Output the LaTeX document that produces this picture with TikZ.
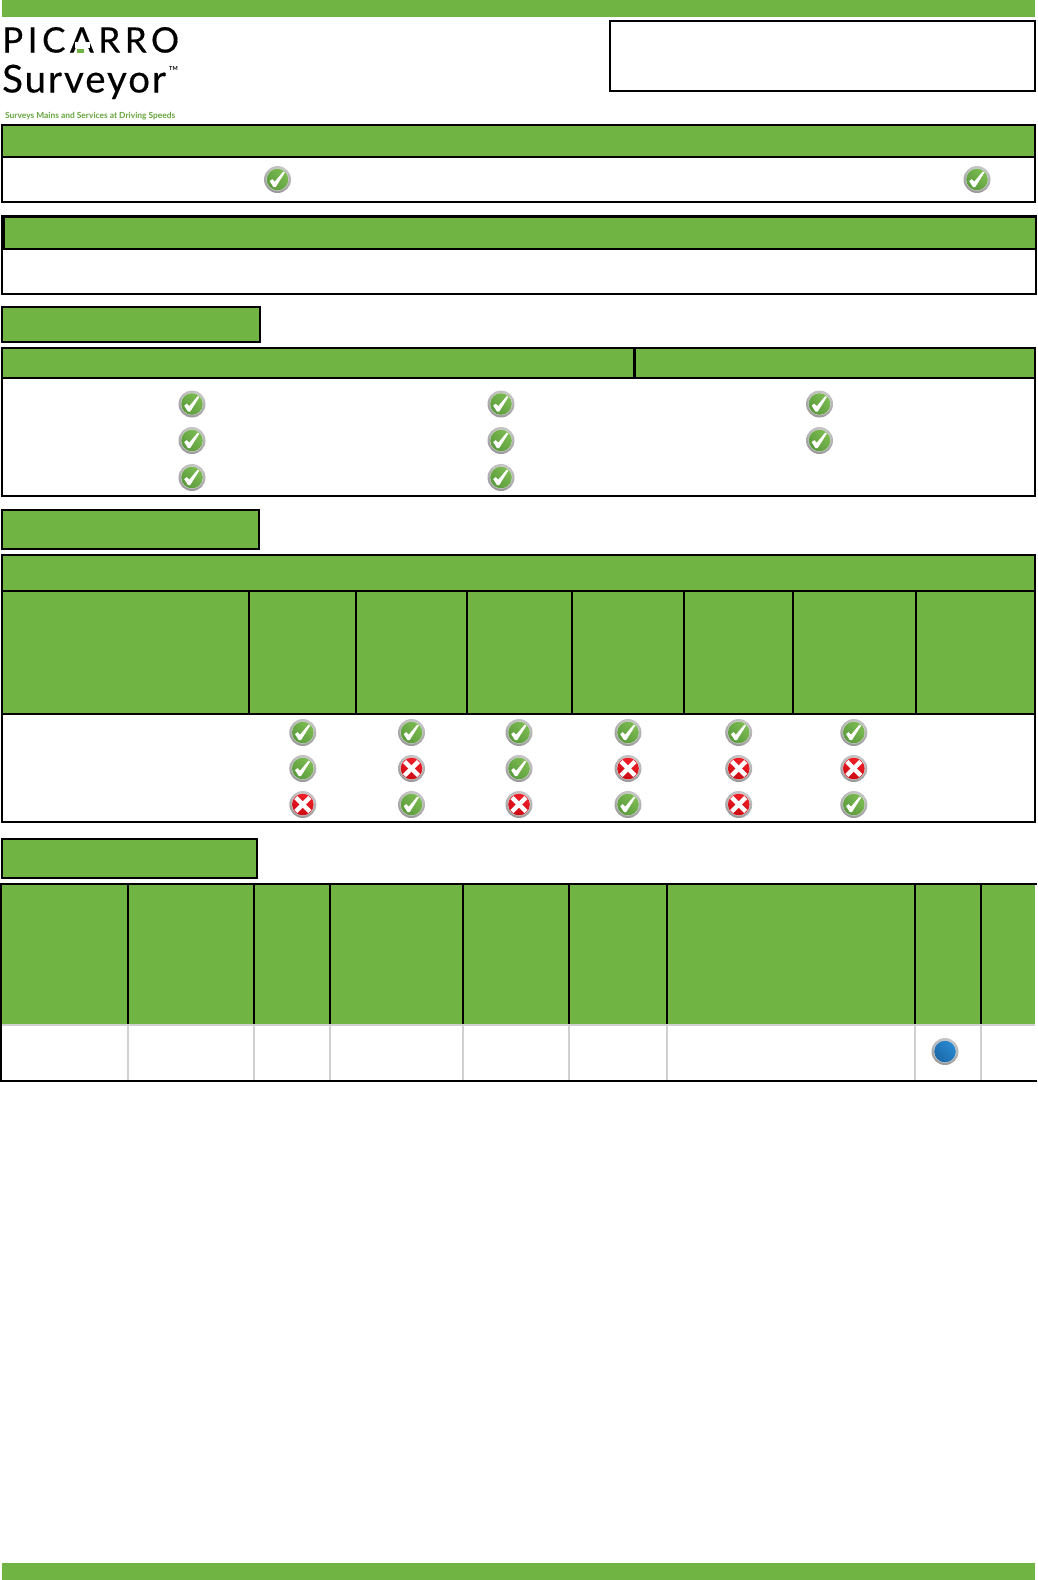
\documentclass[tikz,border=0pt]{standalone}
\usepackage{fontspec}
\setmainfont{Lato}
\definecolor{picgreen}{HTML}{70B543}
\definecolor{lightline}{HTML}{D0D0D0}
\definecolor{okhi}{HTML}{7DBC52}
\definecolor{oklo}{HTML}{5A9A3C}
\definecolor{nohi}{HTML}{F0202A}
\definecolor{nolo}{HTML}{CC0A12}
\definecolor{bluehi}{HTML}{2A8AD2}
\definecolor{bluelo}{HTML}{1B68A8}
\tikzset{
	hdrfill/.style={fill=picgreen,draw=none},
	tblbox/.style={draw=black,line width=2pt},
	tblline/.style={draw=black,line width=2pt},
	softline/.style={draw=lightline,line width=2pt},
	logotext/.style={inner sep=0pt,anchor=base west},
	iconring/.style={top color=gray!45,bottom color=gray!80,shading angle=-20},
	okicon/.pic={
		\shade[iconring] (0,0) circle (13.5);
		\fill[gray!30] (0,0) circle (11.3);
		\shade[top color=okhi,bottom color=oklo,shading angle=-45] (0,0) circle (10.8);
		\fill[white] (-7.8,1.6) -- (-5.2,-0.4) -- (-2.8,2.2) -- (5.8,-8) -- (7.4,-7) -- (-1.8,7.6) -- (-4,7.6) -- cycle;
	},
	noicon/.pic={
		\shade[iconring] (0,0) circle (13.5);
		\fill[gray!30] (0,0) circle (11.3);
		\shade[top color=nohi,bottom color=nolo,shading angle=-20] (0,0) circle (10.8);
		\draw[white,line width=4.4pt] (-7,-7) -- (7,7);
		\draw[white,line width=4.4pt] (-7,7) -- (7,-7);
	},
	blueicon/.pic={
		\shade[iconring] (0,0) circle (13.5);
		\fill[gray!30] (0,0) circle (11.3);
		\shade[top color=bluehi,bottom color=bluelo,shading angle=-45] (0,0) circle (10.8);
	},
}
\begin{document}
\begin{tikzpicture}[x=1pt,y=-1pt]
	\useasboundingbox (0,0) rectangle (1037,1580);
	% page bars
	\fill[picgreen] (2,0) rectangle (1035,17);
	\fill[picgreen] (2,1563) rectangle (1035,1580);
	% logo
	\node[logotext] (logoname) at (2,52.5) {\fontsize{35}{35}\selectfont\addfontfeatures{LetterSpace=13,FakeBold=0.4}PICARRO};
	\fill[white] (75,42) rectangle (90,47.5);
	\fill[picgreen] (77,49) rectangle (84,52.5);
	\node[logotext] (logoprod) at (2,92.5) {\fontsize{38.5}{38.5}\selectfont\addfontfeatures{LetterSpace=5,FakeBold=0.3}Surveyor};
	\node[logotext] (logotm) at (169,70) {\fontsize{5.5}{5.5}\selectfont\bfseries TM};
	\node[logotext,text=picgreen!90!black] (logotag) at (5,118) {\fontsize{8.4}{8.4}\selectfont\bfseries Surveys Mains and Services at Driving Speeds};
	\draw[tblbox] (610,21) rectangle (1035.2,91);
	% first block
	\fill[hdrfill] (2,125) rectangle (1035,157);
	\draw[tblbox] (2,125) rectangle (1035.2,201.7);
	\draw[tblline] (2,157) -- (1035,157);
	\pic at (277.5,179.5) {okicon};
	\pic at (977,179.5) {okicon};
	% second block
	\fill[hdrfill] (2,216) rectangle (1036,249);
	\draw[tblbox] (2,216) rectangle (1036,294);
	\draw[tblline] (2,249) -- (1036,249);
	\draw[black,line width=3pt] (1,216.5) -- (1037,216.5);
	\draw[black,line width=4pt] (3,216) -- (3,249);
	% third block
	\fill[hdrfill] (2,307) rectangle (260,342);
	\draw[tblbox] (2,307) rectangle (260,342);
	\fill[hdrfill] (2,348) rectangle (1035,378);
	\draw[tblbox] (2,348) rectangle (1035,496);
	\draw[tblline] (2,378) -- (1035,378);
	\draw[black,line width=3pt] (634,348) -- (634,378);
	\pic at (192,404) {okicon};
	\pic at (192,440.5) {okicon};
	\pic at (192,477.5) {okicon};
	\pic at (501,404) {okicon};
	\pic at (501,440.5) {okicon};
	\pic at (501,477.5) {okicon};
	\pic at (819.5,404) {okicon};
	\pic at (819.5,440.5) {okicon};
	% fourth block
	\fill[hdrfill] (2,509.5) rectangle (259,549);
	\draw[tblbox] (2,509.5) rectangle (259,549);
	\fill[hdrfill] (2,555) rectangle (1035,714);
	\draw[tblbox] (2,555) rectangle (1035,822);
	\draw[tblline] (2,591) -- (1035,591);
	\draw[tblline] (2,714) -- (1035,714);
	\draw[tblline] (249,591) -- (249,714);
	\draw[tblline] (356,591) -- (356,714);
	\draw[tblline] (467,591) -- (467,714);
	\draw[tblline] (571.8,591) -- (571.8,714);
	\draw[tblline] (683.8,591) -- (683.8,714);
	\draw[tblline] (793,591) -- (793,714);
	\draw[tblline] (916,591) -- (916,714);
	\pic at (302.8,732.5) {okicon};
	\pic at (411.5,732.5) {okicon};
	\pic at (519,732.5) {okicon};
	\pic at (628,732.5) {okicon};
	\pic at (738.7,732.5) {okicon};
	\pic at (853.8,732.5) {okicon};
	\pic at (302.8,768.5) {okicon};
	\pic at (411.5,768.5) {noicon};
	\pic at (519,768.5) {okicon};
	\pic at (628,768.5) {noicon};
	\pic at (738.7,768.5) {noicon};
	\pic at (853.8,768.5) {noicon};
	\pic at (302.8,804.5) {noicon};
	\pic at (411.5,804.5) {okicon};
	\pic at (519,804.5) {noicon};
	\pic at (628,804.5) {okicon};
	\pic at (738.7,804.5) {noicon};
	\pic at (853.8,804.5) {okicon};
	% fifth block
	\fill[hdrfill] (2,839) rectangle (257,878);
	\draw[tblbox] (2,839) rectangle (257,878);
	\fill[hdrfill] (1,884) rectangle (1035,1024);
	\draw[softline] (1,1024.5) -- (1035,1024.5);
	\draw[tblline] (128,884) -- (128,1024);
	\draw[tblline] (254,884) -- (254,1024);
	\draw[tblline] (329.5,884) -- (329.5,1024);
	\draw[tblline] (462.5,884) -- (462.5,1024);
	\draw[tblline] (568.5,884) -- (568.5,1024);
	\draw[tblline] (667,884) -- (667,1024);
	\draw[tblline] (915,884) -- (915,1024);
	\draw[tblline] (981,884) -- (981,1024);
	\draw[softline] (128,1025) -- (128,1080);
	\draw[softline] (254,1025) -- (254,1080);
	\draw[softline] (329.5,1025) -- (329.5,1080);
	\draw[softline] (462.5,1025) -- (462.5,1080);
	\draw[softline] (568.5,1025) -- (568.5,1080);
	\draw[softline] (667,1025) -- (667,1080);
	\draw[softline] (915,1025) -- (915,1080);
	\draw[softline] (981,1025) -- (981,1080);
	\draw[tblline] (0,884) -- (1037,884);
	\draw[tblline] (1,883) -- (1,1081);
	\draw[tblline] (0,1081) -- (1037,1081);
	\pic at (945,1051.5) {blueicon};
\end{tikzpicture}
\end{document}
